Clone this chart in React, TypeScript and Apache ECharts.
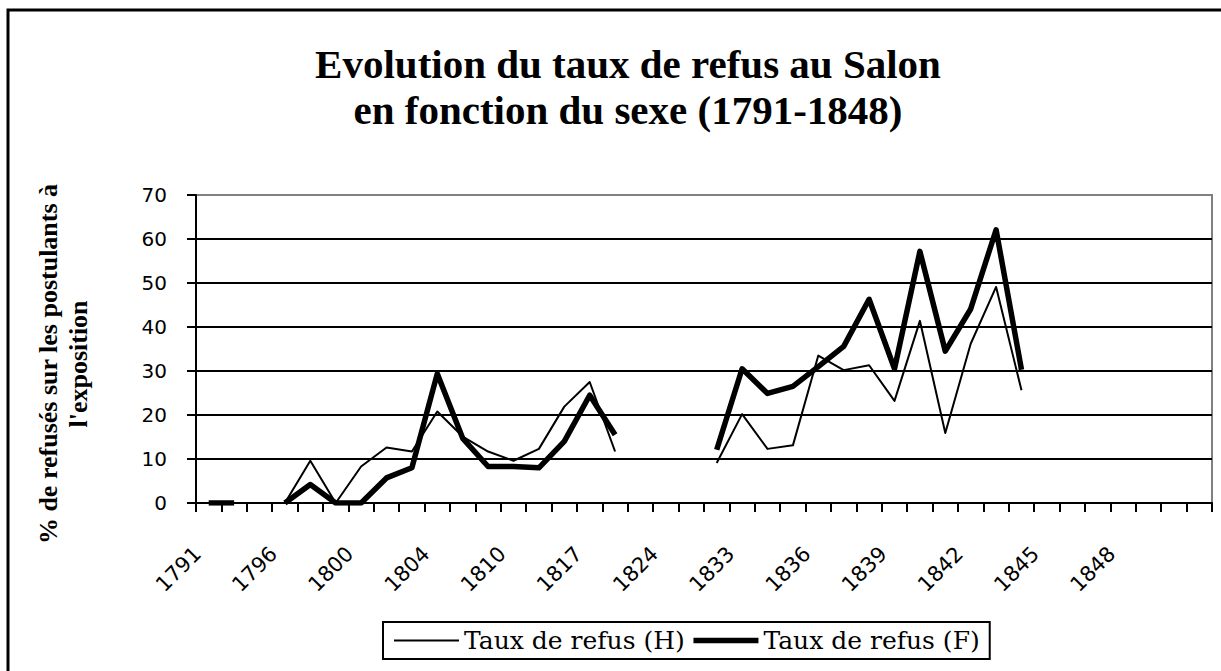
import React, { useEffect, useRef } from 'react';
import * as echarts from 'echarts';

const years = [
  '1791', '1793', '1795', '1796', '1798', '1799', '1800', '1801', '1802', '1804',
  '1806', '1808', '1810', '1812', '1814', '1817', '1819', '1822', '1824', '1827',
  '1831', '1833', '1834', '1835', '1836', '1837', '1838', '1839', '1840', '1841',
  '1842', '1843', '1844', '1845', '1846', '1847', '1848', '1849', '1850', '1852',
];

const tauxH: (number | null)[] = [
  0, 0, null, 0, 9.6, 0, 8.3, 12.6, 11.7, 20.8,
  15.1, 11.7, 9.6, 12.3, 21.9, 27.5, 11.7, null, null, null,
  9.1, 20.2, 12.3, 13.1, 33.5, 30.2, 31.3, 23.2, 41.4, 15.9,
  36.2, 49.1, 25.6, null, null, null, null, null, null, null,
];

const tauxF: (number | null)[] = [
  0, 0, null, 0, 4.2, 0, 0, 5.7, 8.0, 29.4,
  14.7, 8.3, 8.3, 8.0, 14.0, 24.5, 15.5, null, null, null,
  12.1, 30.5, 24.9, 26.5, 31.0, 35.6, 46.3, 30.5, 57.2, 34.5,
  44.1, 62.1, 30.3, null, null, null, null, null, null, null,
];

const labelledYears = ['1791', '1796', '1800', '1804', '1810', '1817', '1824', '1833', '1836', '1839', '1842', '1845', '1848'];
const seriesNames = ['Taux de refus (H)', 'Taux de refus (F)'];
const lineWidths = [2, 5.5];
const titleText = 'Evolution du taux de refus au Salon\nen fonction du sexe (1791-1848)';
const yName = "% de refusés sur les postulants à\nl'exposition";
const yMin = 0;
const yMax = 70;
const yStep = 10;

export default function App() {
  const ref = useRef<HTMLDivElement>(null);

  useEffect(() => {
    document.body.style.margin = '0';
    const chart = echarts.init(ref.current as HTMLDivElement, null, { renderer: 'svg' });
    const gridColors = [] as string[];
    for (let v = yMin; v < yMax; v += yStep) gridColors.push('#000');
    gridColors.push('#808080');

    chart.setOption({
      animation: false,
      backgroundColor: '#fff',
      title: {
        text: titleText,
        left: 623,
        textAlign: 'center',
        top: 36,
        textStyle: {
          fontFamily: 'Liberation Serif',
          fontWeight: 'bold',
          fontSize: 41,
          lineHeight: 46,
          color: '#000',
        },
      },
      graphic: [
        {
          type: 'rect',
          silent: true,
          shape: { x: 8, y: 10, width: 1300, height: 800 },
          style: { fill: 'none', stroke: '#000', lineWidth: 3 },
        },
      ],
      legend: {
        data: seriesNames.map((name, i) => ({ name, lineStyle: { width: lineWidths[i] } })),
        left: 383,
        top: 622,
        orient: 'horizontal',
        borderColor: '#000',
        borderWidth: 2,
        padding: [6, 10, 6, 10],
        itemGap: 6,
        itemWidth: 65,
        itemHeight: 12,
        itemStyle: { opacity: 0 },
        textStyle: { fontFamily: 'DejaVu Serif', fontSize: 25, color: '#000' },
      },
      grid: {
        left: 196,
        top: 195,
        right: 9,
        bottom: 168,
        show: true,
        borderColor: '#808080',
        borderWidth: 2,
        backgroundColor: 'transparent',
      },
      xAxis: {
        type: 'category',
        data: years,
        boundaryGap: true,
        axisLine: { show: true, lineStyle: { color: '#000', width: 2 } },
        axisTick: { show: true, interval: 0, length: 9, lineStyle: { color: '#000', width: 2 } },
        axisLabel: {
          interval: (_i: number, v: string) => labelledYears.indexOf(v) >= 0,
          rotate: 45,
          fontFamily: 'DejaVu Sans',
          fontSize: 21,
          color: '#000',
          margin: 36,
          padding: [0, 16, 0, 0],
        },
        splitLine: { show: false },
      },
      yAxis: {
        type: 'value',
        min: yMin,
        max: yMax,
        interval: yStep,
        name: yName,
        nameLocation: 'middle',
        nameGap: 103,
        nameTextStyle: {
          fontFamily: 'Liberation Serif',
          fontWeight: 'bold',
          fontSize: 26,
          lineHeight: 30,
          color: '#000',
          padding: [0, 30, 0, 0],
        },
        axisLine: { show: true, lineStyle: { color: '#000', width: 2 } },
        axisTick: { show: true, length: 9, lineStyle: { color: '#000', width: 2 } },
        axisLabel: { fontFamily: 'DejaVu Sans', fontSize: 20, color: '#000', margin: 29 },
        splitLine: { show: true, lineStyle: { color: gridColors, width: 2 } },
      },
      series: [
        {
          name: seriesNames[0],
          type: 'line',
          data: tauxH,
          symbol: 'none',
          connectNulls: false,
          lineStyle: { color: '#000', width: lineWidths[0], join: 'round' },
          itemStyle: { color: '#000' },
        },
        {
          name: seriesNames[1],
          type: 'line',
          data: tauxF,
          symbol: 'none',
          connectNulls: false,
          lineStyle: { color: '#000', width: lineWidths[1], join: 'round' },
          itemStyle: { color: '#000' },
        },
      ],
    });

    return () => chart.dispose();
  }, []);

  return (
    <div
      ref={ref}
      style={{ width: 1221, height: 671, position: 'absolute', left: 0, top: 0, background: '#fff' }}
    />
  );
}
